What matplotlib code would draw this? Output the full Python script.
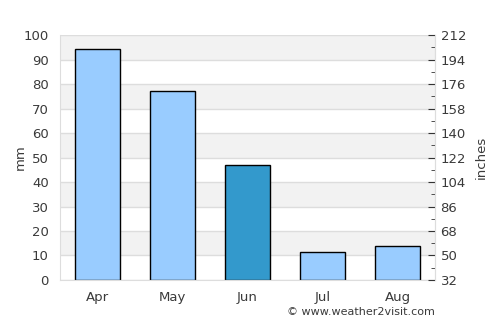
import matplotlib
matplotlib.use("Agg")
import matplotlib.pyplot as plt

months = ["Apr", "May", "Jun", "Jul", "Aug"]
rain_mm = [94.2, 77.0, 46.9, 11.4, 13.9]
bar_colors = ["#99ccff", "#99ccff", "#3399cc", "#99ccff", "#99ccff"]
left_ticks = [0, 10, 20, 30, 40, 50, 60, 70, 80, 90, 100]
right_labels = ["32", "50", "68", "86", "104", "122", "140", "158", "176", "194", "212"]

fig = plt.figure(figsize=(5, 3.25), dpi=100)
ax = fig.add_axes([0.12, 0.1385, 0.75, 0.7535])
txt = "#3a3a3a"

ax.set_xlim(-0.5, 4.5)
ax.set_ylim(0, 100)
for i in range(0, 100, 20):
    ax.axhspan(i + 10, i + 20, color="#f2f2f2", zorder=0, lw=0)
for t in left_ticks:
    ax.axhline(t, color="#dddddd", lw=1, zorder=0.5)

ax.bar(range(len(months)), rain_mm, width=0.6, color=bar_colors,
       edgecolor="black", linewidth=1, zorder=2)

ax.set_xticks(range(len(months)))
ax.set_xticklabels(months, color=txt, fontsize=9.5)
ax.set_yticks(left_ticks)
ax.set_yticklabels([str(t) for t in left_ticks], color=txt, fontsize=9.5)
ax.tick_params(axis="both", length=0, pad=8)
for s in ax.spines.values():
    s.set_color("#dddddd")
ax.spines["top"].set_visible(False)

ax2 = ax.twinx()
ax2.set_ylim(0, 100)
ax2.set_yticks(left_ticks)
ax2.set_yticklabels(right_labels, color=txt, fontsize=9.5)
ax2.set_yticks([t + 5 for t in left_ticks[:-1]], minor=True)
ax2.tick_params(axis="y", which="major", length=5, color="#333333", pad=4, direction="in")
ax2.tick_params(axis="y", which="minor", length=3, color="#333333", direction="in")
for s in ax2.spines.values():
    s.set_visible(False)
ax2.spines["right"].set_visible(True)
ax2.spines["right"].set_color("#dddddd")

fig.text(0.04, 0.517, "mm", rotation=90, ha="center", va="center", color=txt, fontsize=9.5)
fig.text(0.962, 0.517, "inches", rotation=90, ha="center", va="center", color=txt, fontsize=9.5)
fig.text(0.87, 0.025, "© www.weather2visit.com", ha="right", va="bottom",
         color=txt, fontsize=8)

fig.savefig("out.png", dpi=100)
